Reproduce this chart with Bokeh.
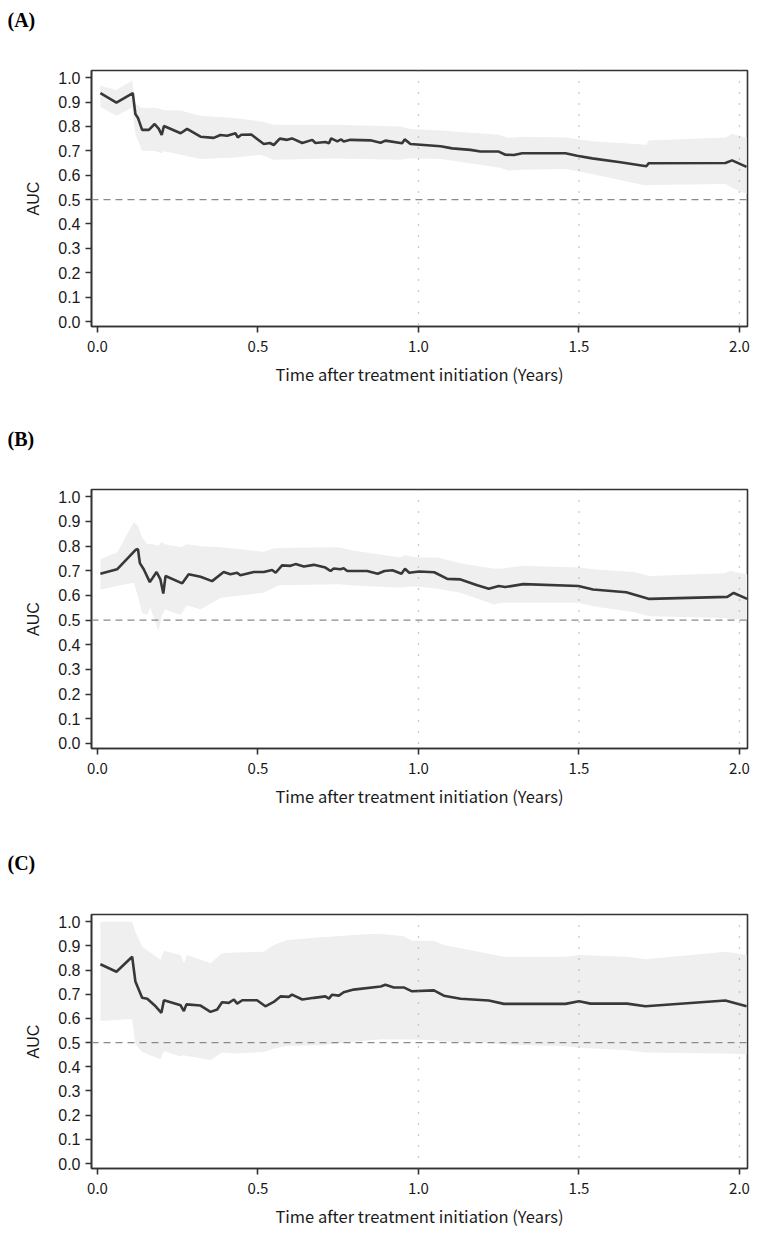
from bokeh.plotting import figure
from bokeh.models import Span, FixedTicker, Range1d, NumeralTickFormatter, Title
from bokeh.layouts import column
from bokeh.embed import file_html
from bokeh.resources import INLINE

# ---------------- data ----------------
panel_labels = ["(A)", "(B)", "(C)"]
x_ticks = [0.0, 0.5, 1.0, 1.5, 2.0]
y_ticks = [0.0, 0.1, 0.2, 0.3, 0.4, 0.5, 0.6, 0.7, 0.8, 0.9, 1.0]
ref_years = [1.0, 1.5, 2.0]
chance_auc = 0.5
x_title = "Time after treatment initiation (Years)"
y_title = "AUC"

# Panel A
a_x = [0.009, 0.059, 0.110, 0.118, 0.126, 0.139, 0.160, 0.178, 0.191, 0.200, 0.207, 0.259, 0.279,
       0.321, 0.362, 0.383, 0.404, 0.430, 0.437, 0.448, 0.479, 0.518, 0.537, 0.549, 0.568, 0.591,
       0.606, 0.638, 0.669, 0.679, 0.710, 0.721, 0.728, 0.747, 0.759, 0.767, 0.788, 0.850, 0.882,
       0.897, 0.949, 0.957, 0.975, 1.069, 1.105, 1.162, 1.193, 1.250, 1.271, 1.297, 1.323, 1.458,
       1.494, 1.541, 1.629, 1.710, 1.717, 1.956, 1.977, 2.022]
a_auc = [0.937, 0.898, 0.937, 0.851, 0.835, 0.786, 0.786, 0.810, 0.790, 0.765, 0.802, 0.772, 0.790,
         0.758, 0.753, 0.765, 0.762, 0.772, 0.755, 0.766, 0.767, 0.728, 0.732, 0.724, 0.750, 0.745,
         0.751, 0.732, 0.745, 0.732, 0.736, 0.731, 0.751, 0.739, 0.747, 0.738, 0.745, 0.743, 0.733,
         0.742, 0.731, 0.747, 0.728, 0.719, 0.710, 0.704, 0.697, 0.697, 0.684, 0.683, 0.690, 0.690,
         0.680, 0.669, 0.653, 0.637, 0.649, 0.650, 0.661, 0.634]
a_bx = [0.009, 0.059, 0.108, 0.118, 0.139, 0.178, 0.200, 0.207, 0.259, 0.321, 0.425, 0.508, 0.550,
        0.740, 0.944, 0.975, 1.069, 1.250, 1.281, 1.323, 1.458, 1.541, 1.710, 1.717, 1.958, 1.975, 2.022]
a_hi = [0.967, 0.950, 0.988, 0.892, 0.876, 0.877, 0.870, 0.866, 0.865, 0.844, 0.835, 0.821, 0.807,
        0.807, 0.800, 0.790, 0.783, 0.766, 0.753, 0.758, 0.755, 0.739, 0.725, 0.742, 0.755, 0.769, 0.755]
a_lo = [0.881, 0.844, 0.878, 0.769, 0.700, 0.700, 0.690, 0.698, 0.684, 0.666, 0.673, 0.684, 0.663,
        0.669, 0.663, 0.670, 0.666, 0.632, 0.619, 0.622, 0.625, 0.605, 0.557, 0.560, 0.564, 0.550, 0.523]

# Panel B
b_x = [0.009, 0.061, 0.118, 0.126, 0.132, 0.144, 0.163, 0.184, 0.196, 0.205, 0.212, 0.264, 0.284,
       0.321, 0.357, 0.393, 0.414, 0.435, 0.445, 0.487, 0.518, 0.544, 0.555, 0.575, 0.601, 0.617,
       0.643, 0.674, 0.710, 0.726, 0.736, 0.757, 0.767, 0.778, 0.840, 0.873, 0.894, 0.919, 0.947,
       0.958, 0.971, 1.002, 1.049, 1.090, 1.131, 1.183, 1.219, 1.250, 1.270, 1.327, 1.498, 1.544,
       1.647, 1.719, 1.962, 1.982, 2.024]
b_auc = [0.688, 0.706, 0.784, 0.788, 0.731, 0.706, 0.654, 0.695, 0.665, 0.608, 0.679, 0.649, 0.686,
         0.676, 0.658, 0.695, 0.686, 0.692, 0.682, 0.695, 0.695, 0.703, 0.692, 0.722, 0.720, 0.727,
         0.717, 0.724, 0.713, 0.699, 0.709, 0.706, 0.710, 0.699, 0.699, 0.688, 0.699, 0.702, 0.688,
         0.708, 0.692, 0.697, 0.694, 0.667, 0.665, 0.641, 0.627, 0.638, 0.634, 0.646, 0.638, 0.624,
         0.613, 0.586, 0.594, 0.610, 0.586]
b_bx = [0.009, 0.061, 0.113, 0.126, 0.139, 0.155, 0.165, 0.190, 0.200, 0.210, 0.259, 0.279, 0.321,
        0.383, 0.425, 0.518, 0.549, 0.565, 0.750, 0.800, 0.944, 0.958, 0.997, 1.059, 1.131, 1.235,
        1.260, 1.327, 1.498, 1.552, 1.673, 1.719, 1.952, 1.972, 2.024]
b_hi = [0.747, 0.774, 0.897, 0.883, 0.835, 0.808, 0.810, 0.801, 0.818, 0.808, 0.795, 0.808, 0.799,
        0.795, 0.790, 0.777, 0.790, 0.792, 0.795, 0.781, 0.754, 0.763, 0.754, 0.754, 0.731, 0.708,
        0.709, 0.720, 0.713, 0.705, 0.695, 0.679, 0.690, 0.699, 0.686]
b_lo = [0.624, 0.638, 0.652, 0.597, 0.529, 0.522, 0.550, 0.454, 0.516, 0.543, 0.522, 0.560, 0.543,
        0.590, 0.597, 0.611, 0.631, 0.641, 0.645, 0.640, 0.631, 0.634, 0.636, 0.627, 0.611, 0.563,
        0.570, 0.570, 0.570, 0.554, 0.532, 0.516, 0.509, 0.505, 0.502]

# Panel C
c_x = [0.009, 0.059, 0.108, 0.118, 0.139, 0.155, 0.181, 0.199, 0.207, 0.259, 0.269, 0.277, 0.321,
       0.352, 0.373, 0.388, 0.409, 0.425, 0.435, 0.451, 0.497, 0.523, 0.549, 0.570, 0.596, 0.606,
       0.638, 0.674, 0.710, 0.721, 0.731, 0.752, 0.767, 0.798, 0.882, 0.897, 0.923, 0.954, 0.980,
       1.048, 1.079, 1.131, 1.219, 1.266, 1.458, 1.500, 1.536, 1.650, 1.707, 1.956, 2.022]
c_auc = [0.824, 0.793, 0.855, 0.753, 0.685, 0.681, 0.650, 0.623, 0.675, 0.654, 0.630, 0.658, 0.653,
         0.627, 0.637, 0.667, 0.664, 0.678, 0.661, 0.675, 0.675, 0.650, 0.668, 0.691, 0.689, 0.698,
         0.678, 0.685, 0.691, 0.682, 0.698, 0.694, 0.708, 0.719, 0.732, 0.739, 0.728, 0.728, 0.712,
         0.716, 0.694, 0.681, 0.674, 0.660, 0.660, 0.671, 0.661, 0.661, 0.650, 0.674, 0.650]
c_bx = [0.009, 0.108, 0.118, 0.139, 0.196, 0.207, 0.259, 0.269, 0.279, 0.352, 0.388, 0.425, 0.518,
        0.549, 0.591, 0.694, 0.850, 0.882, 0.954, 0.980, 1.048, 1.079, 1.219, 1.266, 1.458, 1.500,
        1.650, 1.707, 1.958, 2.022]
c_hi = [1.000, 1.000, 0.958, 0.897, 0.842, 0.880, 0.862, 0.828, 0.862, 0.828, 0.869, 0.872, 0.876,
        0.903, 0.924, 0.935, 0.949, 0.949, 0.940, 0.921, 0.921, 0.903, 0.867, 0.855, 0.855, 0.862,
        0.855, 0.845, 0.876, 0.862]
c_lo = [0.589, 0.598, 0.493, 0.461, 0.431, 0.465, 0.442, 0.448, 0.445, 0.428, 0.459, 0.455, 0.461,
        0.475, 0.486, 0.489, 0.510, 0.514, 0.513, 0.513, 0.510, 0.505, 0.498, 0.492, 0.485, 0.479,
        0.468, 0.459, 0.455, 0.452]

# ---------------- styling ----------------
LINE = "#383838"
BAND = "#efefef"
FRAME = "#333333"
NARROW = "'Noto Sans CJK JP', sans-serif"
ARIAL = "Liberation Sans"
X0, X1 = -0.0187, 2.025
Y0, Y1 = -0.0205, 1.0295
LEFT = 91
W = 758
TXT_H = 23  # approx. height of the 20px letter text box

# (strip height, letter centre from strip top, top border, frame height, bottom border)
geom = [(45, 20, 25, 256, 80), (70, 33, 13, 259, 80), (74, 35, 12, 256, 60)]
series = [(a_x, a_auc, a_bx, a_lo, a_hi),
          (b_x, b_auc, b_bx, b_lo, b_hi),
          (c_x, c_auc, c_bx, c_lo, c_hi)]

items = []
for label, (x, auc, bx, lo, hi), (lh, lc, top, fh, bottom) in zip(panel_labels, series, geom):
    # strip holding the panel letter as a title
    s = figure(width=W, height=lh, x_range=Range1d(0, 1), y_range=Range1d(0, 1),
               x_axis_type=None, y_axis_type=None, output_backend="svg",
               toolbar_location=None, outline_line_color=None,
               min_border_left=LEFT, min_border_right=11,
               min_border_top=0, min_border_bottom=0, title=None)
    s.xgrid.visible = False
    s.ygrid.visible = False
    s.add_layout(Title(text=label, align="left", vertical_align="middle",
                       offset=-(LEFT - 7), standoff=2 * lc - 2 - TXT_H,
                       text_font="Liberation Serif", text_font_style="bold",
                       text_font_size="20px", text_color="#000000"), "above")
    items.append(s)

    p = figure(width=W, height=top + fh + bottom,
               x_range=Range1d(X0, X1), y_range=Range1d(Y0, Y1),
               output_backend="svg", toolbar_location=None,
               min_border_left=LEFT, min_border_right=11,
               min_border_top=top, min_border_bottom=bottom,
               title=None)

    p.varea(x=bx, y1=lo, y2=hi, fill_color=BAND, fill_alpha=1.0)
    p.add_layout(Span(location=chance_auc, dimension="width", line_color="#8a8a8a",
                      line_width=1.2, line_dash="7 5"))
    for yr in ref_years:
        p.add_layout(Span(location=yr, dimension="height", line_color="#999999",
                          line_width=1.3, line_dash="1 10"))
    p.line(x, auc, line_color=LINE, line_width=2.6)

    p.xgrid.visible = False
    p.ygrid.visible = False
    p.outline_line_color = FRAME
    p.outline_line_width = 1.6
    p.outline_line_alpha = 1.0

    p.xaxis.ticker = FixedTicker(ticks=x_ticks)
    p.yaxis.ticker = FixedTicker(ticks=y_ticks)
    p.xaxis.formatter = NumeralTickFormatter(format="0.0")
    p.yaxis.formatter = NumeralTickFormatter(format="0.0")
    for ax in (p.xaxis, p.yaxis):
        ax.axis_line_color = FRAME
        ax.axis_line_width = 1.6
        ax.major_tick_line_color = FRAME
        ax.major_tick_line_width = 1.6
        ax.major_tick_out = 6
        ax.major_tick_in = 0
        ax.minor_tick_line_color = None
        ax.major_label_text_color = "#1a1a1a"
        ax.axis_label_text_color = "#1a1a1a"
        ax.axis_label_text_font_style = "normal"
    p.xaxis.major_label_text_font = NARROW
    p.xaxis.major_label_text_font_size = "15px"
    p.xaxis.major_label_standoff = 8
    p.xaxis.axis_label = x_title
    p.xaxis.axis_label_text_font = NARROW
    p.xaxis.axis_label_text_font_size = "16.5px"
    p.xaxis.axis_label_standoff = 7
    p.yaxis.major_label_text_font = ARIAL
    p.yaxis.major_label_text_font_size = "16px"
    p.yaxis.major_label_standoff = 5
    p.yaxis.axis_label = y_title
    p.yaxis.axis_label_text_font = ARIAL
    p.yaxis.axis_label_text_font_size = "16px"
    p.yaxis.axis_label_standoff = 13
    items.append(p)

layout = column(*items, spacing=0)
open("out.html", "w").write(file_html(layout, INLINE))
